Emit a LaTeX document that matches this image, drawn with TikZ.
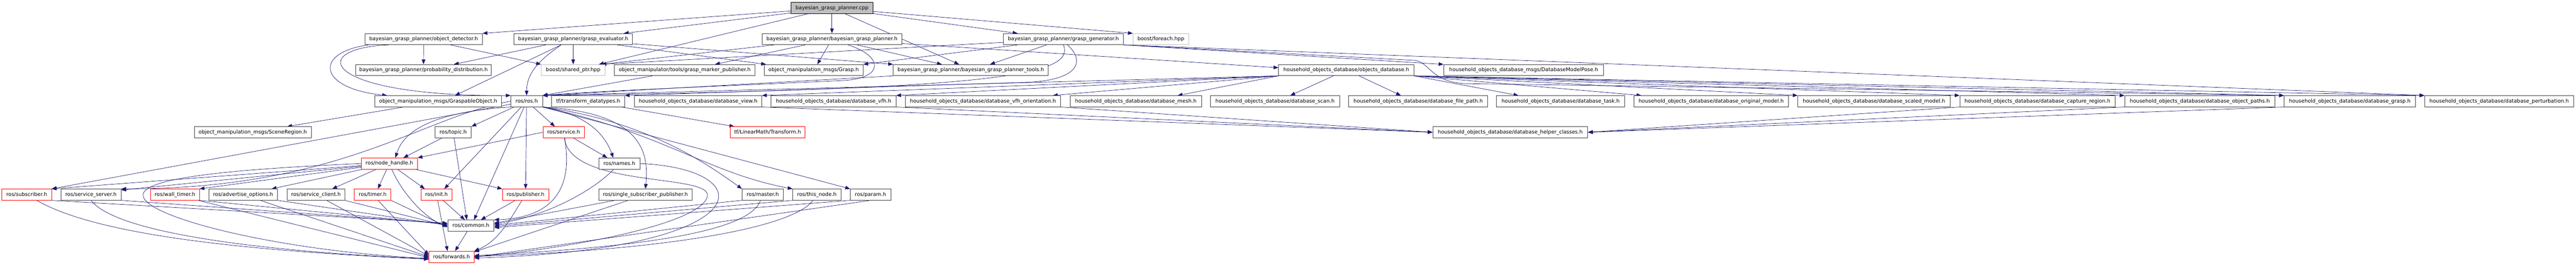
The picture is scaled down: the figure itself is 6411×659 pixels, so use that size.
\documentclass[tikz,border=0pt]{standalone}
\usepackage{fontspec}
\setmainfont{DejaVu Sans}
\usetikzlibrary{arrows.meta}
\definecolor{edgeblue}{RGB}{25,25,112}
\definecolor{boxgray}{RGB}{191,191,191}
\pgfdeclarelayer{edges}
\pgfsetlayers{edges,main}
\tikzset{
  file/.style={draw=black!75, fill=white, line width=1pt, inner sep=0pt,
    minimum height=27.7pt, font=\fontsize{12.8}{15}\selectfont},
  redfile/.style={file, draw=red},
  extfile/.style={file, draw=boxgray},
  mainfile/.style={file, draw=black, fill=boxgray},
  dep/.style={draw=edgeblue, line width=0.9pt, -{Triangle[length=12pt,width=9pt]}}
}
\begin{document}
\begin{tikzpicture}[x=1pt,y=1pt]
\useasboundingbox (0,0) rectangle (6411,-659);

% row 0
\node[mainfile, minimum width=203pt] (main) at (2070.5,-19.8) {bayesian\_grasp\_planner.cpp};

% row 1
\node[file, minimum width=292.5pt] (objdet) at (1054.3,-97.3) {bayesian\_grasp\_planner/object\_detector.h};
\node[file, minimum width=295pt] (evaluator) at (1426.5,-97.3) {bayesian\_grasp\_planner/grasp\_evaluator.h};
\node[file, minimum width=347pt] (bgph) at (2070.5,-97.3) {bayesian\_grasp\_planner/bayesian\_grasp\_planner.h};
\node[file, minimum width=299pt] (generator) at (2646.5,-97.3) {bayesian\_grasp\_planner/grasp\_generator.h};
\node[extfile, minimum width=138.5pt] (foreach) at (2889,-97.3) {boost/foreach.hpp};

% row 2
\node[file, minimum width=338pt] (probdist) at (1054,-174.4) {bayesian\_grasp\_planner/probability\_distribution.h};
\node[extfile, minimum width=159pt] (sharedptr) at (1426.5,-174.4) {boost/shared\_ptr.hpp};
\node[file, minimum width=350pt] (markerpub) at (1704,-174.4) {object\_manipulator/tools/grasp\_marker\_publisher.h};
\node[file, minimum width=246pt] (grasp) at (2025,-174.4) {object\_manipulation\_msgs/Grasp.h};
\node[file, minimum width=386pt] (tools) at (2416,-174.4) {bayesian\_grasp\_planner/bayesian\_grasp\_planner\_tools.h};
\node[file, minimum width=337pt] (objectsdb) at (3350.5,-174.4) {household\_objects\_database/objects\_database.h};
\node[file, minimum width=398pt] (modelpose) at (3792,-174.4) {household\_objects\_database\_msgs/DatabaseModelPose.h};

% row 3
\node[file, minimum width=315pt] (graspable) at (1090.5,-251.8) {object\_manipulation\_msgs/GraspableObject.h};
\node[file, minimum width=78.6pt] (ros) at (1310.7,-251.8) {ros/ros.h};
\node[file, minimum width=181.5pt] (tfdt) at (1463.8,-251.8) {tf/transform\_datatypes.h};
\node[file, minimum width=317.2pt] (dbview) at (1737.2,-251.8) {household\_objects\_database/database\_view.h};
\node[file, minimum width=310.6pt] (dbvfh) at (2074.5,-251.8) {household\_objects\_database/database\_vfh.h};
\node[file, minimum width=386.7pt] (dbvfhor) at (2446.3,-251.8) {household\_objects\_database/database\_vfh\_orientation.h};
\node[file, minimum width=327.1pt] (dbmesh) at (2826.7,-251.8) {household\_objects\_database/database\_mesh.h};
\node[file, minimum width=321.6pt] (dbscan) at (3173.1,-251.8) {household\_objects\_database/database\_scan.h};
\node[file, minimum width=346.1pt] (dbpath) at (3529.4,-251.8) {household\_objects\_database/database\_file\_path.h};
\node[file, minimum width=318.8pt] (dbtask) at (3883.9,-251.8) {household\_objects\_database/database\_task.h};
\node[file, minimum width=384.3pt] (dborig) at (4258.6,-251.8) {household\_objects\_database/database\_original\_model.h};
\node[file, minimum width=379.1pt] (dbscaled) at (4663.8,-251.8) {household\_objects\_database/database\_scaled\_model.h};
\node[file, minimum width=386.4pt] (dbcapture) at (5070.6,-251.8) {household\_objects\_database/database\_capture\_region.h};
\node[file, minimum width=373.5pt] (dbobjpaths) at (5474.7,-251.8) {household\_objects\_database/database\_object\_paths.h};
\node[file, minimum width=326.8pt] (dbgrasp) at (5848,-251.8) {household\_objects\_database/database\_grasp.h};
\node[file, minimum width=371pt] (dbperturb) at (6219.8,-251.8) {household\_objects\_database/database\_perturbation.h};

% row 4
\node[file, minimum width=291pt] (scene) at (629,-329) {object\_manipulation\_msgs/SceneRegion.h};
\node[file, minimum width=89.5pt] (topic) at (1127.9,-329) {ros/topic.h};
\node[redfile, minimum width=103pt] (service) at (1402.8,-329) {ros/service.h};
\node[redfile, minimum width=185.6pt] (transform) at (1910.4,-329) {tf/LinearMath/Transform.h};
\node[file, minimum width=385.7pt] (helper) at (3758.6,-329) {household\_objects\_database/database\_helper\_classes.h};

% row 5
\node[redfile, minimum width=139.8pt] (nodehandle) at (969,-406.7) {ros/node\_handle.h};
\node[file, minimum width=102.9pt] (names) at (1541.3,-406.7) {ros/names.h};

% row 6
\node[redfile, minimum width=123.3pt] (subscriber) at (66.5,-484) {ros/subscriber.h};
\node[file, minimum width=149.8pt] (srvserver) at (226.4,-484) {ros/service\_server.h};
\node[redfile, minimum width=121.5pt] (walltimer) at (435.5,-484) {ros/wall\_timer.h};
\node[file, minimum width=171.2pt] (advopts) at (604.9,-484) {ros/advertise\_options.h};
\node[file, minimum width=143.6pt] (srvclient) at (786.4,-484) {ros/service\_client.h};
\node[redfile, minimum width=90.9pt] (timer) at (927.4,-484) {ros/timer.h};
\node[redfile, minimum width=77.8pt] (init) at (1086.5,-484) {ros/init.h};
\node[redfile, minimum width=115pt] (publisher) at (1307.9,-484) {ros/publisher.h};
\node[file, minimum width=231.8pt] (singlesub) at (1606.3,-484) {ros/single\_subscriber\_publisher.h};
\node[file, minimum width=102.6pt] (master) at (1898.2,-484) {ros/master.h};
\node[file, minimum width=120.2pt] (thisnode) at (2033,-484) {ros/this\_node.h};
\node[file, minimum width=100.6pt] (param) at (2166.5,-484) {ros/param.h};

% rows 7 and 8
\node[file, minimum width=115.3pt] (common) at (1171.8,-561) {ros/common.h};
\node[redfile, minimum width=112.2pt] (forwards) at (1123.7,-638.7) {ros/forwards.h};

\begin{pgfonlayer}{edges}
% from the .cpp file
\draw[dep] (main) -- (objdet.north east);
\draw[dep] (main) -- ([xshift=-22pt]evaluator.north east);
\draw[dep] (main) -- (bgph);
\draw[dep] (main) -- ([xshift=36pt]generator.north west);
\draw[dep] (main) -- (foreach.north west);
\draw[dep] (main) -- ([xshift=-29pt]tools.north);
\draw[dep] (main) -- ([xshift=-16pt]sharedptr.north east);

% object detector
\draw[dep] (objdet) -- (probdist);
\draw[dep] (objdet) -- (sharedptr.north west);
\draw[dep] ([xshift=10pt]objdet.south west) .. controls (780,-130) and (790,-220) .. ([xshift=31pt]graspable.north west);
\draw[dep] ([xshift=60pt]objdet.south west) .. controls (760,-120) and (800,-240) .. (ros.north west);

% grasp evaluator
\draw[dep] (evaluator) -- ([xshift=-94pt]probdist.north east);
\draw[dep] (evaluator) -- ([xshift=-116pt]graspable.north east);
\draw[dep] (evaluator) -- (sharedptr);
\draw[dep] ([xshift=-30pt]evaluator.south) to[out=215,in=90] (ros.north);
\draw[dep] (evaluator) -- ([xshift=5pt]grasp.north west);
\draw[dep] (evaluator) -- (tools.north west);

% bayesian grasp planner header
\draw[dep] (bgph) -- ([xshift=-100pt]markerpub.north east);
\draw[dep] (bgph) -- ([xshift=9pt]grasp.north);
\draw[dep] (bgph) -- ([xshift=-72pt]tools.north);
\draw[dep] ([xshift=30pt]bgph.south west) -- ([xshift=-10pt]sharedptr.north east);
\draw[dep] (bgph) -- ([yshift=6pt]objectsdb.west);
\draw[dep] ([xshift=40pt]bgph.south) .. controls (2200,-140) and (2200,-195) .. (2100,-200) .. controls (1900,-210) and (1500,-225) .. (ros.north east);

% grasp generator
\draw[dep] (generator) -- (grasp.north east);
\draw[dep] (generator) -- ([xshift=48pt]tools.north);
\draw[dep] (generator) -- ([xshift=-10pt]sharedptr.north east);
\draw[dep] (generator.south) .. controls (2680,-190) and (2450,-222) .. (ros.north east);
\draw[dep] ([xshift=10pt]generator.south) .. controls (2700,-150) and (2690,-200) .. (2550,-205) .. controls (2200,-215) and (1800,-230) .. (tfdt.north east);
\draw[dep] (generator.south east) -- (modelpose.north west);
\draw[dep] (generator.south east) -- (3520,-150) .. controls (3560,-155) and (3560,-205) .. (3650,-208) -- (dbgrasp.north west);
\draw[dep] (generator.south east) -- (dbperturb.north west);

% tools and marker publisher
\draw[dep] (tools.south west) -- (ros.north east);
\draw[dep] (markerpub) -- (ros.north east);

% objects database
\draw[dep] (objectsdb.south west) -- (ros.north east);
\draw[dep] (objectsdb.south west) -- (dbview.north east);
\draw[dep] (objectsdb.south west) -- (dbvfh.north east);
\draw[dep] (objectsdb.south west) -- ([xshift=-20pt]dbvfhor.north east);
\draw[dep] (objectsdb.south west) -- ([xshift=-60pt]dbmesh.north east);
\draw[dep] ([xshift=-32pt]objectsdb.south) -- ([xshift=38pt]dbscan.north);
\draw[dep] ([xshift=32pt]objectsdb.south) -- ([xshift=-43pt]dbpath.north);
\draw[dep] (objectsdb.south east) -- ([xshift=55pt]dbtask.north west);
\draw[dep] (objectsdb.south east) -- ([xshift=19pt]dborig.north west);
\draw[dep] (objectsdb.south east) -- (dbscaled.north west);
\draw[dep] (objectsdb.south east) -- (dbcapture.north west);
\draw[dep] (objectsdb.south east) -- (dbobjpaths.north west);
\draw[dep] (objectsdb.south east) -- (dbgrasp.north west);
\draw[dep] (objectsdb.south east) -- (dbperturb.north west);

% database files to helper classes
\draw[dep] (dbview.south east) -- (helper.west);
\draw[dep] (dbvfh.south east) -- (helper.west);
\draw[dep] (dbvfhor.south east) -- (helper.west);
\draw[dep] (dbcapture.south west) -- (helper.east);
\draw[dep] (dbobjpaths.south west) -- (helper.east);
\draw[dep] (dbgrasp.south west) -- (helper.east);

\draw[dep] (graspable) -- (scene);
\draw[dep] (tfdt) -- (transform);

% ros/ros.h
\draw[dep] (ros) -- (subscriber.north east);
\draw[dep] (ros.west) .. controls (1050,-290) and (850,-470) .. (srvserver.north east);
\draw[dep] (ros.south west) .. controls (1050,-280) and (1000,-340) .. ([xshift=15pt]nodehandle.north);
\draw[dep] (ros) -- (topic.north east);
\draw[dep] (ros) -- ([xshift=-20pt]init.north east);
\draw[dep] (ros) -- ([xshift=8pt]common.north);
\draw[dep] (ros) -- (publisher);
\draw[dep] (ros) -- ([xshift=-22pt]service.north);
\draw[dep] (ros.south east) .. controls (1440,-280) and (1500,-320) .. ([xshift=-15pt]names.north);
\draw[dep] (ros.south east) .. controls (1600,-280) and (1615,-380) .. (singlesub.north);
\draw[dep] (ros.south east) .. controls (1600,-300) and (1750,-400) .. (master.north west);
\draw[dep] (ros.south east) .. controls (1650,-330) and (1760,-430) .. (thisnode.north west);
\draw[dep] (ros.south east) -- (param.north west);

% topic, service, names
\draw[dep] (topic) -- ([xshift=-10pt]common.north);
\draw[dep] (topic) -- ([xshift=35pt]nodehandle.north);
\draw[dep] (service.west) -- (nodehandle.north east);
\draw[dep] (service) .. controls (1420,-430) and (1410,-540) .. (common.north east);
\draw[dep] (service) -- ([xshift=-30pt]names.north);
\draw[dep] (service) .. controls (1420,-470) and (1780,-430) .. (1760,-490) .. controls (1740,-560) and (1400,-620) .. (forwards.east);
\draw[dep] (names) .. controls (1470,-480) and (1350,-540) .. ([yshift=4pt]common.east);
\draw[dep] (names.east) .. controls (1900,-420) and (1900,-620) .. ([yshift=-3pt]forwards.east);

% ros/node_handle.h
\draw[dep] (nodehandle) -- (subscriber.north east);
\draw[dep] (nodehandle) -- ([yshift=-3pt]srvserver.north east);
\draw[dep] (nodehandle) -- (walltimer.north east);
\draw[dep] (nodehandle) -- ([xshift=-15pt]advopts.north east);
\draw[dep] (nodehandle) -- ([xshift=-32pt]srvclient.north east);
\draw[dep] (nodehandle) -- ([xshift=13pt]timer.north);
\draw[dep] (nodehandle) -- ([xshift=10pt]init.north west);
\draw[dep] (nodehandle) -- (publisher.north west);
\draw[dep] (nodehandle) .. controls (1000,-480) and (1060,-545) .. ([yshift=-2pt]common.west);
\draw[dep] (nodehandle.west) .. controls (600,-420) and (360,-440) .. (356,-484) .. controls (352,-540) and (700,-625) .. ([yshift=-4pt]forwards.west);

% lower row to common.h and forwards.h
\draw[dep] (subscriber.south east) -- ([yshift=6pt]common.west);
\draw[dep] ([xshift=25pt]subscriber.south) .. controls (250,-590) and (650,-625) .. ([yshift=-6pt]forwards.west);
\draw[dep] (srvserver.south east) -- ([yshift=5pt]common.west);
\draw[dep] (srvserver.south) .. controls (290,-580) and (650,-625) .. ([yshift=-5pt]forwards.west);
\draw[dep] (walltimer.south east) -- ([yshift=3pt]common.west);
\draw[dep] (walltimer) -- ([yshift=-2pt]forwards.west);
\draw[dep] (advopts.south east) -- ([yshift=1pt]common.west);
\draw[dep] (advopts) -- ([yshift=0pt]forwards.west);
\draw[dep] (srvclient.south east) -- ([yshift=-1pt]common.west);
\draw[dep] (srvclient) -- ([yshift=2pt]forwards.west);
\draw[dep] (timer.south east) -- ([yshift=-4pt]common.west);
\draw[dep] (timer) -- ([yshift=5pt]forwards.west);
\draw[dep] (init) -- ([xshift=-15pt]common.north);
\draw[dep] (init) -- ([xshift=-10pt]forwards.north);
\draw[dep] (publisher) -- ([xshift=25pt]common.north);
\draw[dep] (publisher) .. controls (1270,-545) and (1240,-600) .. (forwards.north east);
\draw[dep] (singlesub) -- ([yshift=6pt]common.east);
\draw[dep] (singlesub) -- ([yshift=-2pt]forwards.north east);
\draw[dep] (master.south west) -- ([yshift=1pt]common.east);
\draw[dep] (master) .. controls (1870,-560) and (1700,-610) .. ([yshift=3pt]forwards.east);
\draw[dep] (thisnode.south west) -- ([yshift=-2pt]common.east);
\draw[dep] (thisnode) .. controls (1980,-560) and (1700,-620) .. ([yshift=1pt]forwards.east);
\draw[dep] (param.south west) -- ([yshift=-5pt]common.east);
\draw[dep] (param.south) -- ([yshift=-1pt]forwards.east);
\draw[dep] (common) -- (forwards);
\end{pgfonlayer}

\end{tikzpicture}
\end{document}
